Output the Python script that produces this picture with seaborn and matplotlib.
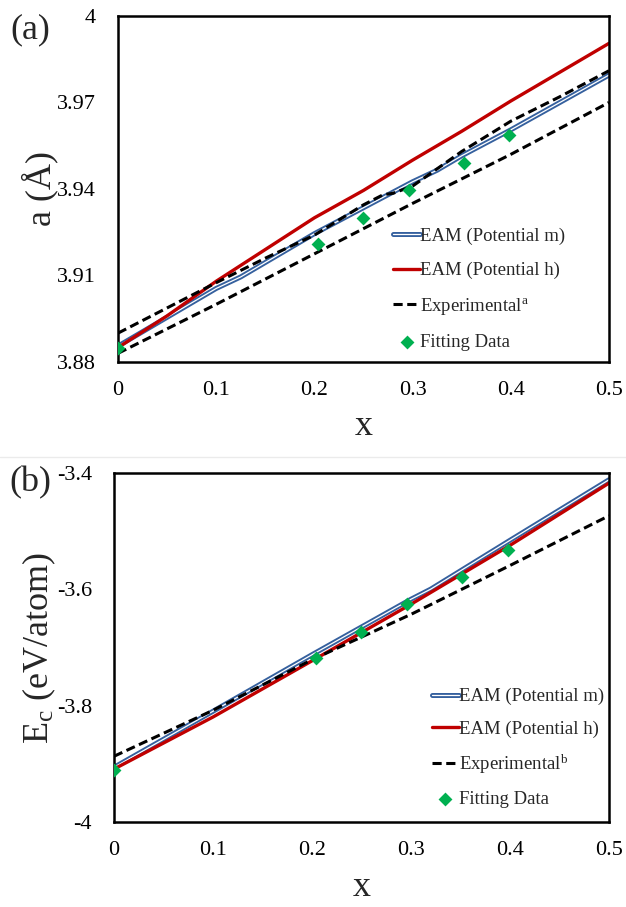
import matplotlib
matplotlib.use('Agg')
import matplotlib.pyplot as plt
import matplotlib.patheffects as pe
from matplotlib.lines import Line2D
import seaborn as sns

# ---- panel (a): lattice constant ----
x_m_a = [0, 0.05, 0.1, 0.125, 0.15, 0.2, 0.25, 0.3, 0.325, 0.35, 0.4, 0.45, 0.5]
a_m = [3.8855, 3.8955, 3.9055, 3.9095, 3.9145, 3.9245, 3.9335, 3.9425, 3.9465, 3.9515, 3.9605, 3.9700, 3.9795]
x_h_a = [0, 0.05, 0.1, 0.15, 0.2, 0.25, 0.3, 0.35, 0.4, 0.45, 0.5]
a_h = [3.885, 3.896, 3.908, 3.919, 3.930, 3.9395, 3.950, 3.960, 3.9705, 3.9805, 3.9905]
x_exp_hi = [0, 0.1, 0.15, 0.2, 0.25, 0.27, 0.28, 0.3, 0.35, 0.4, 0.45, 0.5]
a_exp_hi = [3.890, 3.9075, 3.916, 3.924, 3.9345, 3.938, 3.9385, 3.941, 3.953, 3.9635, 3.972, 3.981]
x_exp_lo = [0, 0.1, 0.2, 0.3, 0.4, 0.5]
a_exp_lo = [3.883, 3.900, 3.9175, 3.935, 3.952, 3.970]
x_fit = [0, 0.204, 0.25, 0.296, 0.352, 0.398]
a_fit = [3.885, 3.921, 3.930, 3.9395, 3.949, 3.9588]

# ---- panel (b): cohesive energy ----
x_b = [0, 0.1, 0.2, 0.3, 0.32, 0.4, 0.5]
e_m = [-3.906, -3.8096, -3.7124, -3.617, -3.5996, -3.5157, -3.4116]
x_hb = [0, 0.1, 0.2, 0.3, 0.4, 0.5]
e_h = [-3.909, -3.8195, -3.7229, -3.6256, -3.5244, -3.4174]
e_exp = [-3.887, -3.808, -3.721, -3.643, -3.559, -3.4735]
e_fit = [-3.911, -3.718, -3.673, -3.626, -3.579, -3.532]

xticks = [0, 0.1, 0.2, 0.3, 0.4, 0.5]
xticklabels = ['0', '0.1', '0.2', '0.3', '0.4', '0.5']
a_ticks = [3.88, 3.91, 3.94, 3.97, 4.0]
a_ticklabels = ['3.88', '3.91', '3.94', '3.97', '4']
e_ticks = [-4.0, -3.8, -3.6, -3.4]
e_ticklabels = ['-4', '-3.8', '-3.6', '-3.4']

sns.set_style('white')
plt.rcParams['font.family'] = ['Liberation Serif', 'DejaVu Serif']
plt.rcParams['mathtext.fontset'] = 'custom'
plt.rcParams['mathtext.rm'] = 'Liberation Serif'
plt.rcParams['mathtext.it'] = 'Liberation Serif:italic'
plt.rcParams['axes.unicode_minus'] = False

blue = '#35609E'
red = '#C00000'
green = '#00B050'
dash = (0, (3, 1.5))
blue_fx = [pe.Stroke(linewidth=3.6, foreground=blue), pe.Normal()]

fig = plt.figure(figsize=(6.26, 9.07), dpi=100)
ax1 = fig.add_axes([0.1885, 0.6009, 0.7843, 0.3815])
ax2 = fig.add_axes([0.1821, 0.0937, 0.7907, 0.3848])


def style_axis(ax, yticks, yticklabels, ylim):
    ax.set_xlim(0, 0.5)
    ax.set_ylim(*ylim)
    ax.set_xticks(xticks)
    ax.set_xticklabels(xticklabels)
    ax.set_yticks(yticks)
    ax.set_yticklabels(yticklabels)
    for s in ax.spines.values():
        s.set_color('black')
        s.set_linewidth(1.8)
    ax.tick_params(axis='both', direction='out', length=5, width=1.5,
                   labelsize=16, colors='black')
    ax.tick_params(axis='y', pad=11)
    ax.tick_params(axis='x', pad=9)
    ax.grid(False)


# panel (a)
sns.lineplot(x=x_m_a, y=a_m, ax=ax1, color='white', lw=0.9, path_effects=blue_fx,
             label='EAM (Potential m)')
sns.lineplot(x=x_h_a, y=a_h, ax=ax1, color=red, lw=2.4, label='EAM (Potential h)')
sns.lineplot(x=x_exp_hi, y=a_exp_hi, ax=ax1, color='black', lw=2.2, linestyle=dash,
             label='Experimental$^{\\mathrm{a}}$')
sns.lineplot(x=x_exp_lo, y=a_exp_lo, ax=ax1, color='black', lw=2.2, linestyle=dash,
             label='_nolegend_')
sns.scatterplot(x=x_fit, y=a_fit, ax=ax1, marker='D', s=50, color=green,
                edgecolor=green, linewidth=0, zorder=5, label='Fitting Data')
style_axis(ax1, a_ticks, a_ticklabels, (3.88, 4.0))
ax1.set_ylabel('a (\u00c5)', fontsize=26)
ax1.set_xlabel('x', fontsize=26)
ax1.yaxis.set_label_coords(-0.122, 0.5)
ax1.xaxis.set_label_coords(0.5, -0.14)
ax1.legend(loc='center left', bbox_to_anchor=(0.56, 0.21), frameon=False,
           fontsize=13.5, handlelength=1.45, handletextpad=0.0, labelspacing=0.9,
           borderpad=0, borderaxespad=0)

# panel (b)
sns.lineplot(x=x_b, y=e_m, ax=ax2, color='white', lw=0.9, path_effects=blue_fx,
             label='EAM (Potential m)')
sns.lineplot(x=x_hb, y=e_h, ax=ax2, color=red, lw=2.4, label='EAM (Potential h)')
sns.lineplot(x=x_hb, y=e_exp, ax=ax2, color='black', lw=2.2, linestyle=dash,
             label='Experimental$^{\\mathrm{b}}$')
sns.scatterplot(x=x_fit, y=e_fit, ax=ax2, marker='D', s=50, color=green,
                edgecolor=green, linewidth=0, zorder=5, label='Fitting Data')
style_axis(ax2, e_ticks, e_ticklabels, (-4.0, -3.4))
ax2.set_ylabel('E$_{\\mathrm{c}}$ (eV/atom)', fontsize=26)
ax2.set_xlabel('x', fontsize=26)
ax2.yaxis.set_label_coords(-0.113, 0.5)
ax2.xaxis.set_label_coords(0.5, -0.14)
ax2.legend(loc='center left', bbox_to_anchor=(0.642, 0.212), frameon=False,
           fontsize=13.5, handlelength=1.45, handletextpad=0.0, labelspacing=0.8,
           borderpad=0, borderaxespad=0)

fig.text(30 / 626, 1 - 30 / 907, '(a)', fontsize=26, ha='center', va='center')
fig.text(30 / 626, 1 - 483 / 907, '(b)', fontsize=26, ha='center', va='center')
fig.add_artist(Line2D([0, 1], [1 - 457 / 907] * 2, color='#ebebeb', lw=1))

plt.savefig('out.png', dpi=100)
